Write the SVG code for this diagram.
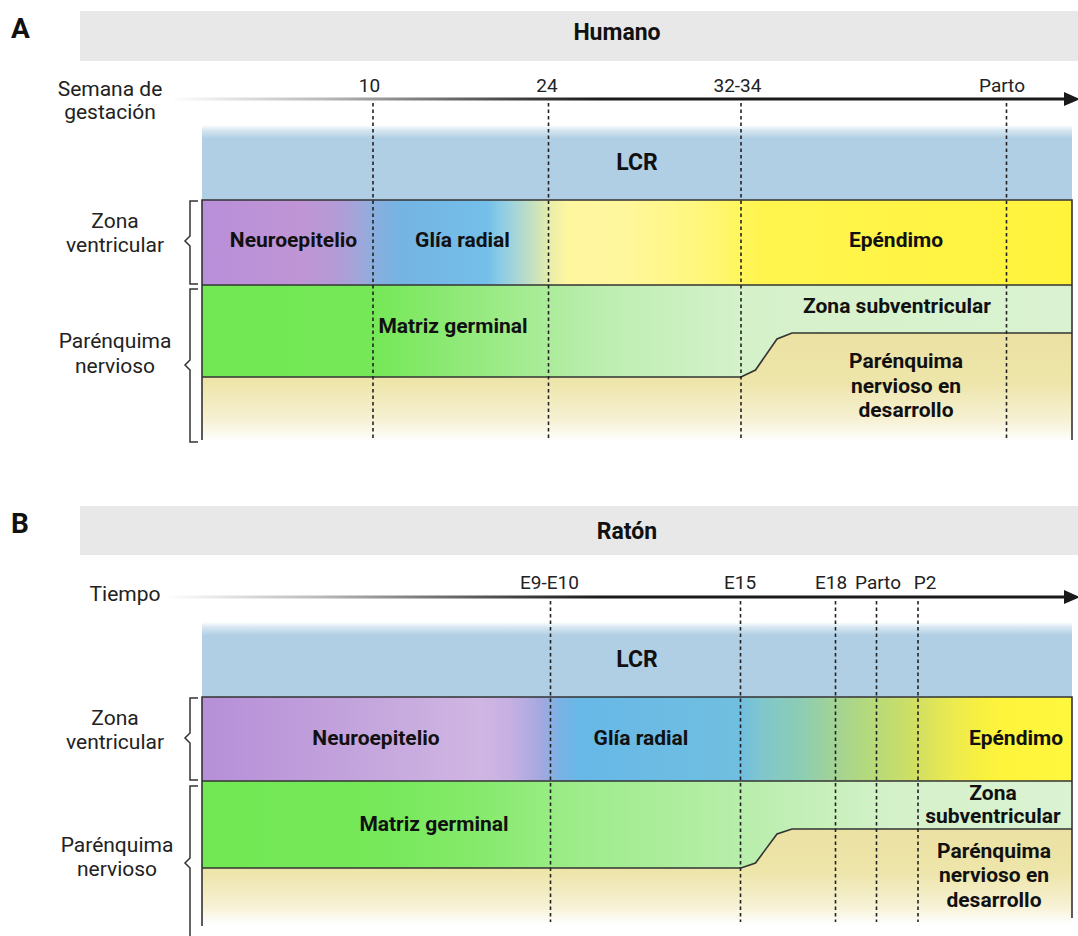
<svg xmlns="http://www.w3.org/2000/svg" width="1078" height="936" viewBox="0 0 1078 936">
<style>
.hdr{fill:#e8e8e8}
.ttl{font-family:Roboto,"Liberation Sans",sans-serif;font-weight:bold;font-size:23px;fill:#111;text-anchor:middle}
.pl{font-family:Roboto,"Liberation Sans",sans-serif;font-weight:bold;font-size:28px;fill:#111}
.side{font-family:Roboto,"Liberation Sans",sans-serif;font-size:21px;fill:#222;text-anchor:middle}
.tick{font-family:Roboto,"Liberation Sans",sans-serif;font-size:19px;fill:#222;text-anchor:middle}
.band{font-family:Roboto,"Liberation Sans",sans-serif;font-weight:bold;font-size:21px;fill:#111;text-anchor:middle}
.dash{stroke:#222;stroke-width:1.6;stroke-dasharray:3.5 3;fill:none}
.edge{stroke:#333;stroke-width:1.6;fill:none}
.brk{stroke:#333;stroke-width:1.5;fill:none}
</style>
<defs>
<linearGradient id="lcr" x1="0" y1="0" x2="0" y2="1">
<stop offset="0" stop-color="#ffffff"/>
<stop offset="0.07" stop-color="#d6e6f1"/>
<stop offset="0.18" stop-color="#b0cfe4"/>
<stop offset="1" stop-color="#b0cfe4"/>
</linearGradient>
<linearGradient id="axisA" gradientUnits="userSpaceOnUse" x1="169" y1="0" x2="600" y2="0">
<stop offset="0" stop-color="#ffffff"/>
<stop offset="0.35" stop-color="#bbbbbb"/>
<stop offset="0.8" stop-color="#444444"/>
<stop offset="1" stop-color="#1a1a1a"/>
</linearGradient>
<linearGradient id="vzA" gradientUnits="userSpaceOnUse" x1="202" y1="0" x2="1072" y2="0">
<stop offset="0" stop-color="#b88fd9"/>
<stop offset="0.113" stop-color="#c095d6"/>
<stop offset="0.151" stop-color="#b59ad6"/>
<stop offset="0.182" stop-color="#a0a6da"/>
<stop offset="0.197" stop-color="#8aaede"/>
<stop offset="0.228" stop-color="#74b4e2"/>
<stop offset="0.328" stop-color="#74bfea"/>
<stop offset="0.343" stop-color="#8ccbe5"/>
<stop offset="0.362" stop-color="#a8d6d6"/>
<stop offset="0.38" stop-color="#c5e0c0"/>
<stop offset="0.40" stop-color="#e8eeaa"/>
<stop offset="0.42" stop-color="#fff6a0"/>
<stop offset="0.48" stop-color="#fff79e"/>
<stop offset="0.572" stop-color="#fff77c"/>
<stop offset="0.641" stop-color="#fff54e"/>
<stop offset="1" stop-color="#fff33c"/>
</linearGradient>
<linearGradient id="gmA" gradientUnits="userSpaceOnUse" x1="202" y1="0" x2="1072" y2="0">
<stop offset="0" stop-color="#72e854"/>
<stop offset="0.197" stop-color="#75e857"/>
<stop offset="0.32" stop-color="#96ea80"/>
<stop offset="0.46" stop-color="#bdeeb0"/>
<stop offset="0.62" stop-color="#d5f1ca"/>
<stop offset="1" stop-color="#daf2d1"/>
</linearGradient>
<linearGradient id="pnA" gradientUnits="userSpaceOnUse" x1="0" y1="333" x2="0" y2="442">
<stop offset="0" stop-color="#ebe1a3"/>
<stop offset="0.45" stop-color="#eee5aa"/>
<stop offset="0.8" stop-color="#f6f1d4"/>
<stop offset="1" stop-color="#ffffff"/>
</linearGradient>
<linearGradient id="axisB" gradientUnits="userSpaceOnUse" x1="165" y1="0" x2="600" y2="0">
<stop offset="0" stop-color="#ffffff"/>
<stop offset="0.35" stop-color="#bbbbbb"/>
<stop offset="0.8" stop-color="#444444"/>
<stop offset="1" stop-color="#1a1a1a"/>
</linearGradient>
<linearGradient id="vzB" gradientUnits="userSpaceOnUse" x1="202" y1="0" x2="1072" y2="0">
<stop offset="0" stop-color="#b68fd8"/>
<stop offset="0.17" stop-color="#c3a3dc"/>
<stop offset="0.32" stop-color="#d0b6e3"/>
<stop offset="0.354" stop-color="#c6b0e2"/>
<stop offset="0.39" stop-color="#a4a8e0"/>
<stop offset="0.41" stop-color="#7ab2e4"/>
<stop offset="0.435" stop-color="#68b8e8"/>
<stop offset="0.62" stop-color="#70bfe0"/>
<stop offset="0.643" stop-color="#80c6cc"/>
<stop offset="0.688" stop-color="#8ccdb4"/>
<stop offset="0.722" stop-color="#a0d298"/>
<stop offset="0.756" stop-color="#b0d882"/>
<stop offset="0.791" stop-color="#c0dc70"/>
<stop offset="0.825" stop-color="#d4e060"/>
<stop offset="0.86" stop-color="#eaea50"/>
<stop offset="0.894" stop-color="#f8f040"/>
<stop offset="0.917" stop-color="#fef43c"/>
<stop offset="1" stop-color="#fff63e"/>
</linearGradient>
<linearGradient id="gmB" gradientUnits="userSpaceOnUse" x1="202" y1="0" x2="1072" y2="0">
<stop offset="0" stop-color="#72e854"/>
<stop offset="0.2" stop-color="#76e859"/>
<stop offset="0.32" stop-color="#86ea6c"/>
<stop offset="0.41" stop-color="#9aec86"/>
<stop offset="0.62" stop-color="#b8eeab"/>
<stop offset="0.8" stop-color="#d5f1ca"/>
<stop offset="1" stop-color="#dbf2d3"/>
</linearGradient>
<linearGradient id="pnB" gradientUnits="userSpaceOnUse" x1="0" y1="829" x2="0" y2="925">
<stop offset="0" stop-color="#ebe1a3"/>
<stop offset="0.45" stop-color="#eee5aa"/>
<stop offset="0.8" stop-color="#f6f1d4"/>
<stop offset="1" stop-color="#ffffff"/>
</linearGradient>
</defs>

<rect width="1078" height="936" fill="#ffffff"/>

<!-- ========== PANEL A ========== -->
<g id="panelA-header">
<text class="pl" x="11" y="38">A</text>
<rect class="hdr" x="80" y="11" width="998" height="50"/>
<text class="ttl" x="617" y="40">Humano</text>
</g>

<g id="axisA-group">
<rect x="169" y="97.5" width="897" height="3" fill="url(#axisA)"/>
<polygon points="1064,92 1080,99 1064,106" fill="#1a1a1a"/>
<text class="side" x="110" y="96">Semana de</text>
<text class="side" x="110" y="119">gestación</text>
<text class="tick" x="369.5" y="92">10</text>
<text class="tick" x="547" y="92">24</text>
<text class="tick" x="737.5" y="92">32-34</text>
<text class="tick" x="1002" y="92">Parto</text>
</g>

<g id="lcrA">
<rect x="202" y="125" width="870" height="75" fill="url(#lcr)"/>
<text class="ttl" x="637" y="170">LCR</text>
</g>

<g id="vzA-band">
<rect x="202" y="200" width="870" height="85" fill="url(#vzA)"/>
<text class="band" x="293.5" y="247">Neuroepitelio</text>
<text class="band" x="462.5" y="247">Glía radial</text>
<text class="band" x="896" y="247">Epéndimo</text>
</g>

<g id="parenA">
<rect x="202" y="285" width="870" height="157" fill="url(#pnA)"/>
<path d="M202,285 H1072 V333 H792 L777,339 L755.5,370 L741,377 H202 Z" fill="url(#gmA)"/>
<text class="band" x="453" y="333">Matriz germinal</text>
<text class="band" x="897" y="313">Zona subventricular</text>
<text class="band" x="906" y="368">Parénquima</text>
<text class="band" x="906" y="393">nervioso en</text>
<text class="band" x="906" y="417">desarrollo</text>
</g>

<g id="edgesA">
<path class="edge" d="M202,440 V200 H1072 V440"/>
<path class="edge" d="M202,285 H1072"/>
<path class="edge" d="M202,377 H741 L755.5,370 L777,339 L792,333 H1072"/>
</g>

<g id="sideA">
<text class="side" x="115" y="228">Zona</text>
<text class="side" x="115" y="252">ventricular</text>
<path class="brk" d="M198,201 H190 V236 L185,241 L190,246 V284 H198"/>
<text class="side" x="115" y="348">Parénquima</text>
<text class="side" x="115" y="373">nervioso</text>
<path class="brk" d="M198,289 H190 V360 L185,365 L190,370 V442 H198"/>
</g>

<g id="connectorsA">
<line class="dash" x1="373" y1="103" x2="373" y2="440"/>
<line class="dash" x1="548.5" y1="103" x2="548.5" y2="440"/>
<line class="dash" x1="741" y1="103" x2="741" y2="440"/>
<line class="dash" x1="1006.5" y1="103" x2="1006.5" y2="440"/>
</g>

<!-- ========== PANEL B ========== -->
<g id="panelB-header">
<text class="pl" x="11" y="533">B</text>
<rect class="hdr" x="80" y="506" width="998" height="49"/>
<text class="ttl" x="627" y="539">Ratón</text>
</g>

<g id="axisB-group">
<rect x="165" y="595.5" width="901" height="3" fill="url(#axisB)"/>
<polygon points="1064,590 1080,597 1064,604" fill="#1a1a1a"/>
<text class="side" x="125" y="601">Tiempo</text>
<text class="tick" x="549.5" y="589">E9-E10</text>
<text class="tick" x="740" y="589">E15</text>
<text class="tick" x="831" y="589">E18</text>
<text class="tick" x="878" y="589">Parto</text>
<text class="tick" x="925" y="589">P2</text>
</g>

<g id="lcrB">
<rect x="202" y="622" width="870" height="75" fill="url(#lcr)"/>
<text class="ttl" x="637" y="667">LCR</text>
</g>

<g id="vzB-band">
<rect x="202" y="697" width="870" height="84" fill="url(#vzB)"/>
<text class="band" x="376" y="745">Neuroepitelio</text>
<text class="band" x="641" y="745">Glía radial</text>
<text class="band" x="1016" y="745">Epéndimo</text>
</g>

<g id="parenB">
<rect x="202" y="781" width="870" height="146" fill="url(#pnB)"/>
<path d="M202,781 H1072 V829 H792 L777,834 L755.5,863 L741,868 H202 Z" fill="url(#gmB)"/>
<text class="band" x="434" y="831">Matriz germinal</text>
<text class="band" x="993" y="800">Zona</text>
<text class="band" x="993" y="823">subventricular</text>
<text class="band" x="994" y="858">Parénquima</text>
<text class="band" x="994" y="882">nervioso en</text>
<text class="band" x="994" y="907">desarrollo</text>
</g>

<g id="edgesB">
<path class="edge" d="M202,926 V697 H1072 V918"/>
<path class="edge" d="M202,781 H1072"/>
<path class="edge" d="M202,868 H741 L755.5,863 L777,834 L792,829 H1072"/>
</g>

<g id="sideB">
<text class="side" x="115" y="725">Zona</text>
<text class="side" x="115" y="749">ventricular</text>
<path class="brk" d="M198,698 H190 V733 L185,738 L190,743 V780 H198"/>
<text class="side" x="117" y="852">Parénquima</text>
<text class="side" x="117" y="876">nervioso</text>
<path class="brk" d="M198,786 H190 V858 L185,863 L190,868 V940"/>
</g>

<g id="connectorsB">
<line class="dash" x1="550.5" y1="601" x2="550.5" y2="922"/>
<line class="dash" x1="740.5" y1="601" x2="740.5" y2="922"/>
<line class="dash" x1="835.5" y1="601" x2="835.5" y2="922"/>
<line class="dash" x1="876.5" y1="601" x2="876.5" y2="922"/>
<line class="dash" x1="918" y1="601" x2="918" y2="922"/>
</g>
</svg>
